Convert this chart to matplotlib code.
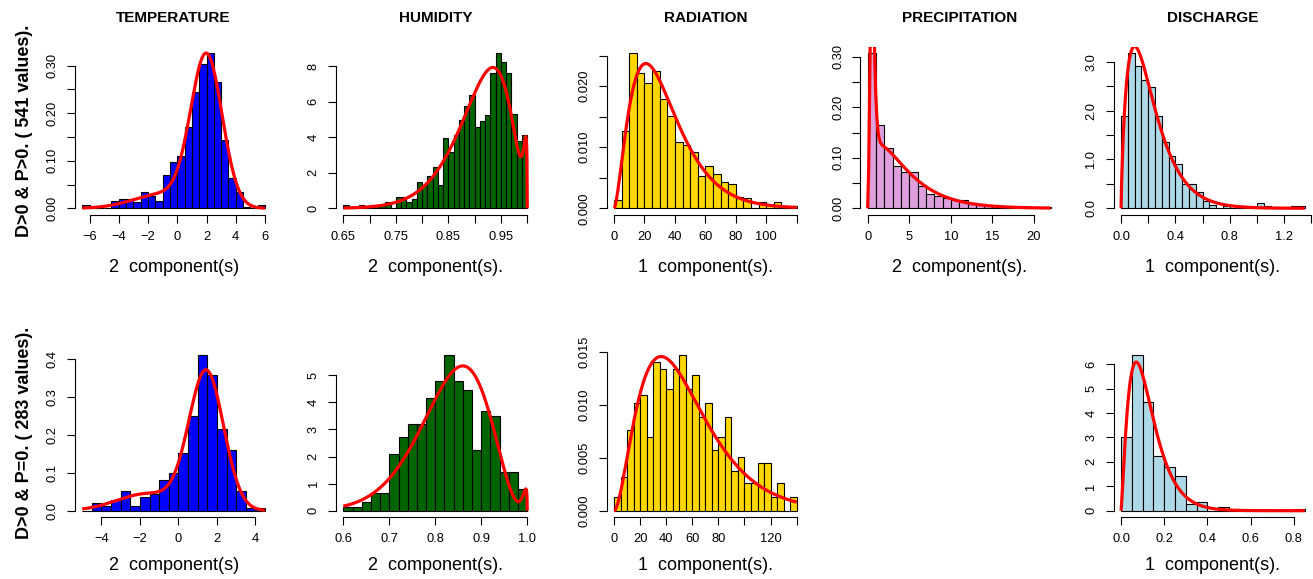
import numpy as np
import matplotlib.pyplot as plt
from math import lgamma, log, sqrt, pi

plt.rcParams['font.family'] = ['Liberation Sans', 'DejaVu Sans']

# ---------------- histogram densities ----------------
temp_top_edges = np.arange(-6.5, 6.01, 0.5)
temp_top_dens = [0.0074, 0, 0, 0, 0.0148, 0.0185, 0.0185, 0.0129, 0.0333, 0.0259,
                 0.0148, 0.0702, 0.0980, 0.1109, 0.1701, 0.2440, 0.3031, 0.3272,
                 0.2662, 0.1442, 0.0628, 0.0333, 0.0037, 0, 0.0074]

hum_top_edges = np.linspace(0.65, 1.0, 36)
hum_top_dens = [0.18, 0, 0, 0.18, 0, 0.18, 0.18, 0.18, 0.35, 0,
                0.66, 0.66, 0.35, 0.5, 1.5, 1.3, 1.8, 2.3, 1.3, 3.95,
                3.15, 4.1, 4.95, 5.75, 6.4, 4.6, 4.9, 5.25, 7.6, 8.75,
                8.25, 7.6, 5.3, 3.8, 4.1]

rad_top_edges = np.arange(0, 121, 5)
rad_top_dens = [0.00136, 0.01264, 0.02545, 0.02213, 0.02044, 0.02245, 0.01782, 0.01515,
                0.0109, 0.0103, 0.00926, 0.00529, 0.00698, 0.00567, 0.0043, 0.00403,
                0.0018, 0.00163, 0, 0.0011, 0.0007, 0.0011, 0, 0.0004]

prec_top_edges = np.arange(0, 23, 1)
prec_top_dens = [0.308, 0.1655, 0.1187, 0.0831, 0.0712, 0.0725, 0.0448, 0.029, 0.0237,
                 0.0204, 0.0165, 0.0158, 0.0086, 0.0066, 0.0046, 0.004, 0.0033, 0.002,
                 0.002, 0, 0, 0.0033]

dis_top_edges = np.linspace(0, 1.35, 28)
dis_top_dens = [1.89, 3.18, 2.91, 2.62, 2.48, 1.89, 1.36, 1.07, 0.90, 0.50,
                0.50, 0.33, 0.14, 0.075, 0, 0.037, 0, 0, 0, 0,
                0.11, 0.037, 0, 0, 0, 0.037, 0.037]

temp_bot_edges = np.arange(-5, 4.51, 0.5)
temp_bot_dens = [0, 0.019, 0.012, 0.028, 0.051, 0.012, 0.037, 0.045, 0.082, 0.10,
                 0.153, 0.249, 0.409, 0.356, 0.216, 0.159, 0.052, 0.007, 0.007]

hum_bot_edges = np.linspace(0.6, 1.0, 21)
hum_bot_dens = [0.15, 0.15, 0.31, 0.64, 0.64, 2.09, 2.72, 3.19, 3.19, 4.16,
                4.79, 5.74, 4.79, 4.47, 2.23, 3.67, 3.51, 1.43, 1.43, 0.79]

rad_bot_edges = np.arange(0, 141, 5)
rad_bot_dens = [0.0013, 0.0032, 0.0076, 0.0102, 0.0109, 0.0070, 0.0141, 0.0134, 0.0115,
                0.0134, 0.0147, 0.0115, 0.0128, 0.0089, 0.0102, 0.0057, 0.0070, 0.0089,
                0.0038, 0.0051, 0.0026, 0.0026, 0.0045, 0.0045, 0.0013, 0.0026, 0, 0.0013]

dis_bot_edges = np.linspace(0, 0.85, 18)
dis_bot_dens = [3.0, 6.36, 4.45, 2.22, 1.78, 1.40, 0.28, 0.35, 0, 0.14,
                0, 0, 0, 0, 0, 0, 0.07]

# ---------------- fitted mixture parameters (estimated) ----------------
temp_top_fit = dict(w=[0.85, 0.15], mu=[2.0, -1.0], sd=[1.07, 2.0])
temp_bot_fit = dict(w=[0.82, 0.18], mu=[1.45, -1.6], sd=[0.9, 1.6])
hum_top_fit = dict(w=[0.96, 0.04], a=[26, 200], b=[2.75, 1.5])
hum_bot_fit = dict(w=[0.989, 0.011], a=[19.4, 150], b=[4.0, 1.5])
rad_top_fit = dict(w=[1.0], k=[2.7], theta=[12.3])
rad_bot_fit = dict(w=[1.0], k=[2.9], theta=[19.0])
prec_top_fit = dict(w=[0.23, 0.77], k=[5.0, 1.5], theta=[0.12, 3.0])
dis_top_fit = dict(w=[1.0], k=[1.83], theta=[0.12])
dis_bot_fit = dict(w=[1.0], k=[2.3], theta=[0.054])

# ---------------- labels ----------------
col_titles = ['TEMPERATURE', 'HUMIDITY', 'RADIATION', 'PRECIPITATION', 'DISCHARGE']
row_labels = ['D>0 & P>0. ( 541 values).', 'D>0 & P=0. ( 283 values).']
top_xlabels = ['2  component(s)', '2  component(s).', '1  component(s).',
               '2  component(s).', '1  component(s).']
bot_xlabels = ['2  component(s)', '2  component(s).', '1  component(s).',
               None, '1  component(s).']

M = '\u2212'
temp_top_xt = [-6, -4, -2, 0, 2, 4, 6]
temp_top_xtl = [M + '6', M + '4', M + '2', '0', '2', '4', '6']
temp_top_yt = [0, 0.05, 0.10, 0.15, 0.20, 0.25, 0.30]
temp_top_ytl = ['0.00', '', '0.10', '', '0.20', '', '0.30']
hum_top_xt = [0.65, 0.70, 0.75, 0.80, 0.85, 0.90, 0.95, 1.00]
hum_top_xtl = ['0.65', '', '0.75', '', '0.85', '', '0.95', '']
hum_top_yt = [0, 2, 4, 6, 8]
hum_top_ytl = ['0', '2', '4', '6', '8']
rad_top_xt = [0, 20, 40, 60, 80, 100, 120]
rad_top_xtl = ['0', '20', '40', '60', '80', '100', '']
rad_top_yt = [0, 0.005, 0.010, 0.015, 0.020, 0.025]
rad_top_ytl = ['0.000', '', '0.010', '', '0.020', '']
prec_top_xt = [0, 5, 10, 15, 20]
prec_top_xtl = ['0', '5', '10', '15', '20']
prec_top_yt = [0, 0.05, 0.10, 0.15, 0.20, 0.25, 0.30]
prec_top_ytl = ['0.00', '', '0.10', '', '0.20', '', '0.30']
dis_top_xt = [0, 0.2, 0.4, 0.6, 0.8, 1.0, 1.2, 1.4]
dis_top_xtl = ['0.0', '', '0.4', '', '0.8', '', '1.2', '']
dis_top_yt = [0, 0.5, 1.0, 1.5, 2.0, 2.5, 3.0]
dis_top_ytl = ['0.0', '', '1.0', '', '2.0', '', '3.0']

temp_bot_xt = [-4, -2, 0, 2, 4]
temp_bot_xtl = [M + '4', M + '2', '0', '2', '4']
temp_bot_yt = [0, 0.1, 0.2, 0.3, 0.4]
temp_bot_ytl = ['0.0', '0.1', '0.2', '0.3', '0.4']
hum_bot_xt = [0.6, 0.7, 0.8, 0.9, 1.0]
hum_bot_xtl = ['0.6', '0.7', '0.8', '0.9', '1.0']
hum_bot_yt = [0, 1, 2, 3, 4, 5]
hum_bot_ytl = ['0', '1', '2', '3', '4', '5']
rad_bot_xt = [0, 20, 40, 60, 80, 100, 120, 140]
rad_bot_xtl = ['0', '20', '40', '60', '80', '', '120', '']
rad_bot_yt = [0, 0.005, 0.010, 0.015]
rad_bot_ytl = ['0.000', '0.005', '0.010', '0.015']
dis_bot_xt = [0, 0.2, 0.4, 0.6, 0.8]
dis_bot_xtl = ['0.0', '0.2', '0.4', '0.6', '0.8']
dis_bot_yt = [0, 1, 2, 3, 4, 5, 6]
dis_bot_ytl = ['0', '1', '2', '3', '4', '5', '6']


# ---------------- densities ----------------
def mix_norm(x, w, mu, sd):
    out = np.zeros_like(x)
    for wi, m, s in zip(w, mu, sd):
        out += wi * np.exp(-(x - m) ** 2 / (2 * s * s)) / (s * sqrt(2 * pi))
    return out


def mix_gamma(x, w, k, theta):
    out = np.zeros_like(x)
    xs = np.clip(x, 1e-12, None)
    for wi, ki, th in zip(w, k, theta):
        lp = (ki - 1) * np.log(xs) - xs / th - lgamma(ki) - ki * log(th)
        out += wi * np.where(x > 0, np.exp(lp), 0.0)
    return out


def mix_beta(x, w, a, b):
    out = np.zeros_like(x)
    xs = np.clip(x, 1e-12, 1 - 1e-12)
    for wi, ai, bi in zip(w, a, b):
        lp = (ai - 1) * np.log(xs) + (bi - 1) * np.log(1 - xs) \
            - (lgamma(ai) + lgamma(bi) - lgamma(ai + bi))
        out += wi * np.where((x > 0) & (x < 1), np.exp(lp), 0.0)
    return out


panels = [
    (0, 0, temp_top_edges, temp_top_dens, 'blue', mix_norm, temp_top_fit,
     temp_top_xt, temp_top_xtl, temp_top_yt, temp_top_ytl),
    (0, 1, hum_top_edges, hum_top_dens, '#006400', mix_beta, hum_top_fit,
     hum_top_xt, hum_top_xtl, hum_top_yt, hum_top_ytl),
    (0, 2, rad_top_edges, rad_top_dens, '#FFD700', mix_gamma, rad_top_fit,
     rad_top_xt, rad_top_xtl, rad_top_yt, rad_top_ytl),
    (0, 3, prec_top_edges, prec_top_dens, '#DDA0DD', mix_gamma, prec_top_fit,
     prec_top_xt, prec_top_xtl, prec_top_yt, prec_top_ytl),
    (0, 4, dis_top_edges, dis_top_dens, '#ADD8E6', mix_gamma, dis_top_fit,
     dis_top_xt, dis_top_xtl, dis_top_yt, dis_top_ytl),
    (1, 0, temp_bot_edges, temp_bot_dens, 'blue', mix_norm, temp_bot_fit,
     temp_bot_xt, temp_bot_xtl, temp_bot_yt, temp_bot_ytl),
    (1, 1, hum_bot_edges, hum_bot_dens, '#006400', mix_beta, hum_bot_fit,
     hum_bot_xt, hum_bot_xtl, hum_bot_yt, hum_bot_ytl),
    (1, 2, rad_bot_edges, rad_bot_dens, '#FFD700', mix_gamma, rad_bot_fit,
     rad_bot_xt, rad_bot_xtl, rad_bot_yt, rad_bot_ytl),
    (1, 4, dis_bot_edges, dis_bot_dens, '#ADD8E6', mix_gamma, dis_bot_fit,
     dis_bot_xt, dis_bot_xtl, dis_bot_yt, dis_bot_ytl),
]

# layout in pixels (plot regions)
W, H = 1313, 579
cols_px = [(74.9, 272.3), (336.0, 534.6), (606.7, 804.0), (860.4, 1058.0), (1113.7, 1312.0)]
rows_px = [(46.6, 214.5), (349.1, 516.9)]

fig = plt.figure(figsize=(W / 100, H / 100), dpi=100)
fig.patch.set_facecolor('white')

for row, col, edges, dens, color, fn, fit, xt, xtl, yt, ytl in panels:
    x0, x1 = cols_px[col]
    y0, y1 = rows_px[row]
    ax = fig.add_axes([x0 / W, 1 - y1 / H, (x1 - x0) / W, (y1 - y0) / H])
    dens = np.asarray(dens, dtype=float)
    ax.bar(edges[:-1], dens, width=np.diff(edges), align='edge', color=color,
           edgecolor='black', linewidth=0.8)
    grid = np.linspace(edges[0], edges[-1], 600)
    ax.plot(grid, fn(grid, *fit.values()), color='red', lw=2.3, solid_capstyle='butt')

    lo, hi = edges[0], edges[-1]
    pad = 0.04 * (hi - lo)
    ax.set_xlim(lo - pad, hi + pad)
    top = dens.max()
    ax.set_ylim(-0.04 * top, 1.04 * top)

    for s in ('top', 'right'):
        ax.spines[s].set_visible(False)
    ax.spines['left'].set_bounds(yt[0], yt[-1])
    ax.spines['bottom'].set_bounds(xt[0], xt[-1])
    for s in ('left', 'bottom'):
        ax.spines[s].set_linewidth(0.8)
    ax.set_xticks(xt)
    ax.set_xticklabels(xtl)
    ax.set_yticks(yt)
    ax.set_yticklabels(ytl)
    ax.tick_params(direction='out', length=5.5, width=0.8, labelsize=9.3, pad=6.3)
    for lbl in ax.get_yticklabels():
        lbl.set_rotation(90)
        lbl.set_va('center')
    ax.patch.set_alpha(0)

# column titles
for (x0, x1), t in zip(cols_px, col_titles):
    fig.text((x0 + x1) / 2 / W, 1 - 17.5 / H, t, ha='center', va='center',
             fontsize=11, fontweight='bold')

# x labels
for (x0, x1), t in zip(cols_px, top_xlabels):
    fig.text((x0 + x1) / 2 / W, 1 - 267.5 / H, t, ha='center', va='center', fontsize=13)
for (x0, x1), t in zip(cols_px, bot_xlabels):
    if t:
        fig.text((x0 + x1) / 2 / W, 1 - 566 / H, t, ha='center', va='center', fontsize=13)

# row labels
for (y0, y1), t in zip(rows_px, row_labels):
    fig.text(25 / W, 1 - (y0 + y1) / 2 / H, t, ha='center', va='center',
             rotation=90, fontsize=13, fontweight='bold')

fig.savefig('out.png', dpi=100, facecolor='white')
